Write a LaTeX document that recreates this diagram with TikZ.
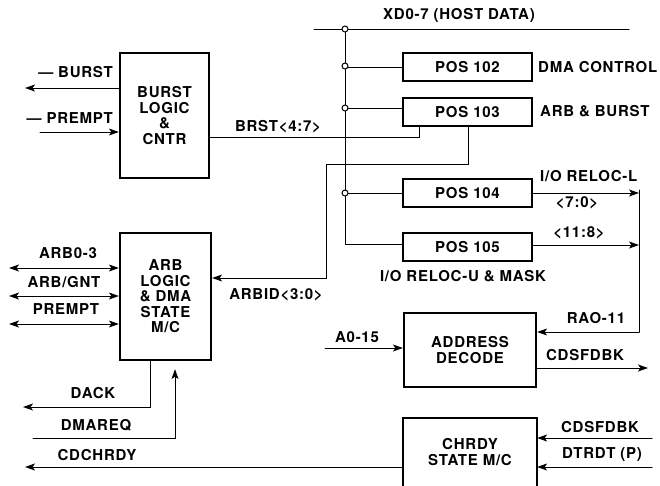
\documentclass[tikz,border=0pt]{standalone}
\usepackage{fontspec}
\setmainfont[LetterSpace=5]{TeX Gyre Heros}
\usetikzlibrary{arrows.meta}
\newcommand\sigfont{\fontsize{15}{15.5}\selectfont\bfseries}

\begin{document}
\begin{tikzpicture}
    [x=1pt,y=-1pt,line cap=round,
    % Styles
    block/.style={draw,line width=2.2pt,align=center,font=\sigfont,inner sep=0pt},
    signal/.style={line width=1pt},
    tip/.tip={Stealth[length=10pt,width=7pt,inset=2.5pt]},
    to pin/.style={signal,-tip},
    both ways/.style={signal,tip-tip},
    tap/.style={circle,draw,fill=white,line width=1pt,inner sep=0pt,minimum size=6pt},
    pin text/.style={font=\sigfont,inner sep=0pt}]

    \useasboundingbox (0,0) rectangle (660,485);

    % Blocks
    \node[block,minimum width=89pt,minimum height=125pt] (burst) at (164.5,115.5)
        {BURST\\LOGIC\\\&\\CNTR};
    \node[block,minimum width=91pt,minimum height=127pt] (arb) at (165.5,296.5)
        {ARB\\LOGIC\\\& DMA\\STATE\\M/C};
    \node[block,minimum width=129pt,minimum height=28pt] (pos102) at (467.5,67) {POS 102};
    \node[block,minimum width=129pt,minimum height=28pt] (pos103) at (467.5,112) {POS 103};
    \node[block,minimum width=129pt,minimum height=28pt] (pos104) at (467.5,193) {POS 104};
    \node[block,minimum width=129pt,minimum height=28pt] (pos105) at (467.5,247) {POS 105};
    \node[block,minimum width=132pt,minimum height=74pt] (decode) at (470,350)
        {ADDRESS\\DECODE};
    \node[block,draw=none,minimum width=132pt,minimum height=66pt] (chrdy) at (470,452)
        {CHRDY\\STATE M/C};
    \draw[line width=2.2pt] (chrdy.south west) |- (chrdy.north east) -- (chrdy.south east);

    % Coordinates
    \coordinate (bus left) at (314,29);
    \coordinate (bus right) at (629,29);
    \coordinate (bus top) at (345,29);
    \coordinate (reloc top) at (639,190);
    \coordinate (reloc bottom) at (639,332);

    % Host data bus
    \draw[signal] (bus left) -- (bus right);
    \draw[signal] (bus top) |- ([yshift=3pt]pos105.west);
    \draw[signal] (bus top |- pos102.west) -- (pos102.west);
    \draw[signal] (bus top |- 0,108) -- ([yshift=4pt]pos103.west);
    \draw[signal] (bus top |- pos104.west) -- (pos104.west);
    \foreach \y in {29,66,108,193}
        \node[tap] at (345,\y) {};
    \node[pin text] at (459,15) {XD0-7 (HOST DATA)};
    \node[pin text,anchor=west] at (538,67) {DMA CONTROL};
    \node[pin text,anchor=west] at (540,111) {ARB \& BURST};
    \node[pin text,anchor=west] at (540,176) {I/O RELOC-L};
    \node[pin text] at (463,276) {I/O RELOC-U \& MASK};

    % Burst logic
    \draw[to pin] ([yshift=27.5pt]burst.west) -- (25,88);
    \draw[to pin] (40,132) -- ([yshift=-16.5pt]burst.west);
    \node[pin text,anchor=east] at (113,72) {\textemdash{} BURST};
    \node[pin text,anchor=east] at (113,118) {\textemdash{} PREMPT};
    \draw[signal] ([yshift=-21.5pt]burst.east) -| ([xshift=-48.5pt]pos103.south);
    \node[pin text] at (278,127) {BRST<4:7>};

    % Arbitration
    \draw[to pin] ([xshift=0.5pt]pos103.south) |- (326,164) |- ([yshift=18.5pt]arb.east);
    \node[pin text] at (276,295) {ARBID<3:0>};
    \foreach \dy/\lbl/\ly/\lx in {28.5/ARB0-3/253/68, 0.5/{ARB/GNT}/282/64, -27.5/PREMPT/309/66}
    {
        \draw[both ways] (9,296.5-\dy) -- ([yshift=\dy pt]arb.west);
        \node[pin text] at (\lx,\ly) {\lbl};
    }
    \draw[to pin] ([xshift=-15.5pt]arb.south) |- (23,407);
    \node[pin text] at (93,393) {DACK};
    \draw[to pin] (33,438) -| ([xshift=9.5pt,yshift=-8pt]arb.south);
    \node[pin text] at (96,425) {DMAREQ};

    % I/O relocation
    \draw[to pin] (pos104.east) -- (pos104.east -| reloc top);
    \node[pin text] at (577,203) {<7:0>};
    \draw[to pin] ([yshift=2pt]pos105.east) -- ([yshift=2pt]pos105.east -| reloc top);
    \node[pin text] at (579,233) {<11:8>};
    \draw[signal] (reloc top) -- (reloc bottom);
    \draw[to pin] (reloc bottom) -- (reloc bottom -| decode.east);
    \node[pin text] at (596,318) {RAO-11};

    % Address decode
    \draw[to pin] (325,348) -- (decode.west |- 0,348);
    \node[pin text] at (357,337) {A0-15};
    \draw[to pin] ([yshift=-18pt]decode.east) -- (648,368);
    \node[pin text] at (585,355) {CDSFDBK};

    % Channel ready
    \draw[to pin] (652,438) -- (chrdy.east |- 0,438);
    \node[pin text] at (600,427) {CDSFDBK};
    \draw[to pin] (652,467) -- (chrdy.east |- 0,467);
    \node[pin text] at (602,455) {DTRDT (P)};
    \draw[to pin] ([yshift=-15pt]chrdy.west) -- (25,467);
    \node[pin text] at (97,455) {CDCHRDY};

\end{tikzpicture}
\end{document}
